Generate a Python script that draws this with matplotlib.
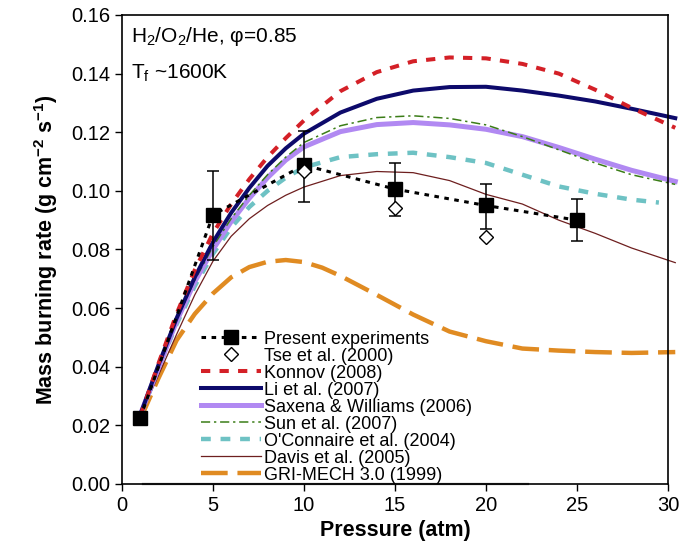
import matplotlib

matplotlib.use("Agg")
import matplotlib.pyplot as plt

plt.rcParams["font.family"] = ["Liberation Sans", "DejaVu Sans"]
plt.rcParams["mathtext.fontset"] = "custom"
plt.rcParams["mathtext.rm"] = "Liberation Sans"
plt.rcParams["mathtext.it"] = "Liberation Sans:italic"
plt.rcParams["mathtext.bf"] = "Liberation Sans:bold"
plt.rcParams["mathtext.default"] = "regular"

# measured data
exp_p = [1, 5, 10, 15, 20, 25]
exp_rate = [0.0225, 0.0918, 0.1088, 0.1006, 0.0950, 0.0900]
exp_lo = [0.0225, 0.0765, 0.0963, 0.0914, 0.0870, 0.0828]
exp_hi = [0.0225, 0.1066, 0.1205, 0.1095, 0.1024, 0.0973]

tse_p = [10, 15, 20]
tse_rate = [0.1066, 0.0943, 0.0843]

# model curves
p = [1, 2, 3, 4, 5, 6, 7, 8, 9, 10, 12, 14, 16, 18, 20, 22, 24, 26, 28, 30.4]
konnov = [0.023, 0.041, 0.058, 0.073, 0.0855, 0.0955, 0.1040, 0.1115, 0.1180, 0.1240,
          0.1340, 0.1405, 0.1442, 0.1455, 0.1452, 0.1433, 0.1400, 0.1345, 0.1283, 0.1215]
li = [0.0235, 0.0405, 0.0565, 0.0705, 0.0825, 0.0925, 0.1010, 0.1085, 0.1145, 0.1195,
      0.1267, 0.1314, 0.1342, 0.1354, 0.1355, 0.1342, 0.1325, 0.1305, 0.1280, 0.1248]
saxena = [0.0235, 0.0395, 0.0555, 0.069, 0.080, 0.0895, 0.0975, 0.1045, 0.1105, 0.1150,
          0.1202, 0.1226, 0.1233, 0.1225, 0.1210, 0.1185, 0.1148, 0.1108, 0.1070, 0.1032]
sun = [0.023, 0.040, 0.056, 0.0695, 0.081, 0.0905, 0.0985, 0.1055, 0.1115, 0.1165,
       0.1222, 0.1250, 0.1256, 0.1247, 0.1225, 0.1185, 0.1140, 0.1095, 0.1055, 0.1022]
p_oconnaire = [1, 2, 3, 4, 5, 6, 7, 8, 9, 10, 12, 14, 16, 18, 20, 22, 24, 26, 28, 29.5]
oconnaire = [0.023, 0.0395, 0.0545, 0.0675, 0.0785, 0.0875, 0.0945, 0.1000, 0.1045, 0.1080,
             0.1115, 0.1125, 0.1130, 0.1115, 0.1095, 0.1055, 0.1015, 0.0990, 0.0970, 0.0960]
davis = [0.023, 0.037, 0.051, 0.0645, 0.076, 0.0845, 0.0905, 0.0950, 0.0985, 0.1013,
         0.1052, 0.1066, 0.1062, 0.1035, 0.0988, 0.0955, 0.0900, 0.0855, 0.0805, 0.0755]
p_gri = [1, 2, 3, 4, 5, 6, 7, 8, 9, 10, 11, 12, 14, 16, 17, 18, 20, 22, 24, 26, 28, 30.4]
gri = [0.022, 0.036, 0.049, 0.058, 0.065, 0.0705, 0.074, 0.0758, 0.0764, 0.0757, 0.0738,
       0.071, 0.0645, 0.0578, 0.0549, 0.052, 0.0487, 0.0462, 0.0455, 0.0450, 0.0447, 0.0450]

# grey stroke lying on the bottom axis
base_p = [1.15, 22.3]
base_rate = [0.0, 0.0]

fig = plt.figure(figsize=(6.89, 5.46), dpi=100)
ax = fig.add_axes([0.177, 0.1136, 0.7925, 0.859])

ax.plot(base_p, base_rate, color="#555555", linewidth=1.6, clip_on=False, zorder=1)

ax.plot(p_gri, gri, color="#e08b22", linewidth=3.2, dashes=(6, 2.2), clip_on=False,
        label="GRI-MECH 3.0 (1999)")
ax.plot(p, davis, color="#6e1f1f", linewidth=0.9, clip_on=False, label="Davis et al. (2005)")
ax.plot(p_oconnaire, oconnaire, color="#6ec2c4", linewidth=3.2, dashes=(2.2, 2.2),
        clip_on=False, label="O'Connaire et al. (2004)")
ax.plot(p, saxena, color="#b189f2", linewidth=3.6, clip_on=False,
        label="Saxena & Williams (2006)")
ax.plot(p, sun, color="#3b7d17", linewidth=1.1, dashes=(6, 2.5, 1.5, 2.5), clip_on=False,
        label="Sun et al. (2007)")
ax.plot(p, li, color="#0d0a6b", linewidth=2.9, clip_on=False, label="Li et al. (2007)")
ax.plot(p, konnov, color="#d42027", linewidth=2.9, dashes=(2.3, 2.3), clip_on=False,
        label="Konnov (2008)")

yerr = [[r - lo for r, lo in zip(exp_rate, exp_lo)], [hi - r for r, hi in zip(exp_rate, exp_hi)]]
ax.errorbar(exp_p, exp_rate, yerr=yerr, fmt="none", ecolor="black", elinewidth=1.1,
            capsize=4.5, capthick=1.1, zorder=5)
ax.plot(exp_p, exp_rate, color="black", linewidth=2.2, dashes=(1.5, 1.8), marker="s",
        markersize=9.5, zorder=6, label="Present experiments")
ax.plot(tse_p, tse_rate, linestyle="none", marker="D", markersize=6.8, markerfacecolor="white",
        markeredgecolor="black", markeredgewidth=1.0, zorder=7, label="Tse et al. (2000)")

handles, labels = ax.get_legend_handles_labels()
order = ["Present experiments", "Tse et al. (2000)", "Konnov (2008)", "Li et al. (2007)",
         "Saxena & Williams (2006)", "Sun et al. (2007)", "O'Connaire et al. (2004)",
         "Davis et al. (2005)", "GRI-MECH 3.0 (1999)"]
hmap = dict(zip(labels, handles))
ax.legend([hmap[k] for k in order], order, loc="upper left", bbox_to_anchor=(0.145, 0.327),
          frameon=False, fontsize=13, handlelength=3.3, handletextpad=0.2, labelspacing=0.0,
          borderpad=0, borderaxespad=0, numpoints=1)

ax.text(0.016, 0.955, "H$_2$/O$_2$/He, φ=0.85", transform=ax.transAxes, fontsize=15, va="center")
ax.text(0.016, 0.875, "T$_f$ ~1600K", transform=ax.transAxes, fontsize=15, va="center")

ax.set_xlim(0, 30)
ax.set_ylim(0, 0.16)
ax.set_xticks([0, 5, 10, 15, 20, 25, 30])
ax.set_yticks([0.0, 0.02, 0.04, 0.06, 0.08, 0.10, 0.12, 0.14, 0.16])
ax.set_yticklabels([f"{v:.2f}" for v in ax.get_yticks()])
ax.tick_params(labelsize=14.5, length=5, width=1.0, direction="out", colors="black")
for s in ax.spines.values():
    s.set_linewidth(1.2)

ax.set_xlabel("Pressure (atm)", fontsize=15.5, fontweight="bold", labelpad=4)
ax.set_ylabel("Mass burning rate (g cm$^{-2}$ s$^{-1}$)", fontsize=15.5, fontweight="bold",
              labelpad=8)

fig.savefig("out.png", dpi=100)
plt.close(fig)
